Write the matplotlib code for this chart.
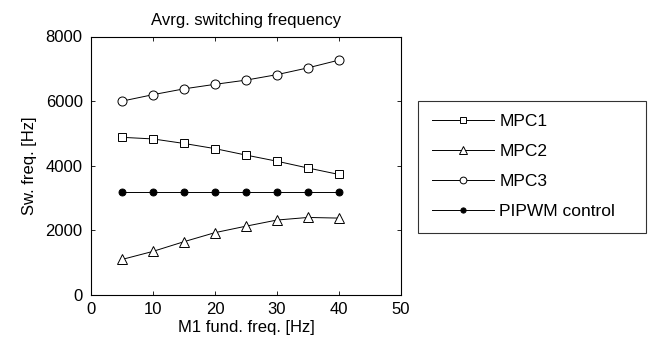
import numpy as np
import matplotlib
matplotlib.use('Agg')
import matplotlib.pyplot as plt

plt.rcParams['font.family'] = ['Liberation Sans', 'DejaVu Sans']

# datos
freq = [5, 10, 15, 20, 25, 30, 35, 40]
mpc1 = [4880, 4830, 4690, 4530, 4330, 4140, 3930, 3730]
mpc2 = [1100, 1350, 1650, 1930, 2130, 2320, 2400, 2380]
mpc3 = [6000, 6200, 6380, 6520, 6650, 6820, 7030, 7270]
pipwm = [3200, 3200, 3200, 3200, 3200, 3200, 3200, 3200]

fs = 12
fig = plt.figure(figsize=(6.54, 3.43), dpi=100)
ax = fig.add_axes([91/654, 1-295/343, (401-91)/654, (295-36.5)/343])

lw = 0.7
ax.plot(freq, mpc1, '-s', color='k', lw=lw, ms=6, mfc='white', mew=0.7, label='MPC1')
ax.plot(freq, mpc2, '-^', color='k', lw=lw, ms=7, mfc='white', mew=0.7, label='MPC2')
ax.plot(freq, mpc3, '-o', color='k', lw=lw, ms=6.5, mfc='white', mew=0.7, label='MPC3')
ax.plot(freq, pipwm, '-o', color='k', lw=lw, ms=5, mfc='black', mew=0.7, label='PIPWM control')

ax.set_xlim(0, 50)
ax.set_ylim(0, 8000)
ax.set_xticks([0, 10, 20, 30, 40, 50])
ax.set_yticks([0, 2000, 4000, 6000, 8000])
ax.tick_params(direction='in', top=True, right=True, length=3, width=0.6, labelsize=fs)
ax.tick_params(axis='x', pad=5)
ax.tick_params(axis='y', pad=6)
for s in ax.spines.values():
    s.set_linewidth(0.8)

ax.set_title('Avrg. switching frequency', fontsize=fs, pad=8)
ax.set_xlabel('M1 fund. freq. [Hz]', fontsize=fs, labelpad=2)
ax.set_ylabel('Sw. freq. [Hz]', fontsize=fs, labelpad=6)

leg = fig.legend(loc='upper left', bbox_to_anchor=(418/654, 1-104/343, 228/654, 0.01),
                 mode='expand', fontsize=12.5,
                 frameon=True, fancybox=False, edgecolor='k', handlelength=3.6,
                 handletextpad=0.3, labelspacing=0.85, borderpad=0.78, borderaxespad=0,
                 markerscale=0.75)
leg.get_frame().set_linewidth(0.8)

fig.savefig('out.png', dpi=100)
